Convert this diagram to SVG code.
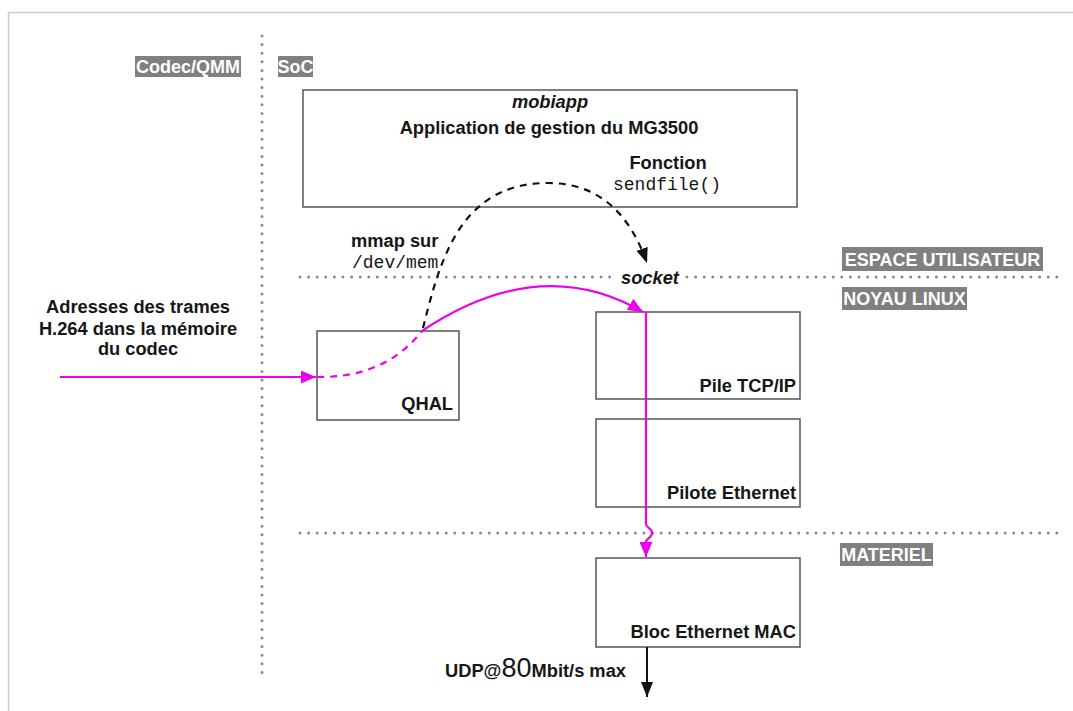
<svg xmlns="http://www.w3.org/2000/svg" width="1073" height="711" viewBox="0 0 1073 711">
  <style>
    .t { font-family: "Liberation Sans", Arial, sans-serif; font-weight: bold; font-size: 18.3px; fill: #161616; }
    .mono { font-family: "Liberation Mono", "Courier New", monospace; font-size: 18px; fill: #161616; }
    .lbl { font-family: "Liberation Sans", Arial, sans-serif; font-weight: bold; font-size: 18px; fill: #ffffff; }
    .lblbox { fill: #808080; }
    .box { fill: #ffffff; stroke: #555555; stroke-width: 1.5; }
    .dots { fill: none; stroke: #8a8a8a; stroke-width: 3; stroke-linecap: round; stroke-dasharray: 0 8.6; }
    .mag { fill: none; stroke: #ee00ee; stroke-width: 2.2; }
  </style>
  <defs>
    <marker id="ahMag" markerUnits="userSpaceOnUse" markerWidth="15" markerHeight="13" refX="15" refY="6.5" orient="auto">
      <path d="M0,0 L15,6.5 L0,13 z" fill="#ee00ee"/>
    </marker>
    <marker id="ahBlk" markerUnits="userSpaceOnUse" markerWidth="15" markerHeight="12" refX="15" refY="6" orient="auto">
      <path d="M0,0 L15,6 L0,12 z" fill="#111111"/>
    </marker>
  </defs>

  <rect x="0" y="0" width="1073" height="711" fill="#ffffff"/>
  <!-- frame -->
  <path d="M8.5,711 V12.5 H1073" fill="none" stroke="#cccccc" stroke-width="1.5"/>

  <!-- separators -->
  <g id="separators">
    <line class="dots" x1="262" y1="36" x2="262" y2="676"/>
    <line class="dots" x1="300" y1="277" x2="1060" y2="277"/>
    <line class="dots" x1="300" y1="533" x2="1060" y2="533"/>
  </g>

  <!-- zone labels -->
  <g id="label-codec">
    <rect class="lblbox" x="135" y="56" width="106" height="21"/>
    <text class="lbl" x="188" y="73" text-anchor="middle">Codec/QMM</text>
  </g>
  <g id="label-soc">
    <rect class="lblbox" x="278" y="56" width="35" height="21"/>
    <text class="lbl" x="295.5" y="73" text-anchor="middle">SoC</text>
  </g>
  <g id="label-espace">
    <rect class="lblbox" x="842" y="247" width="201" height="24"/>
    <text class="lbl" x="942.5" y="266" text-anchor="middle">ESPACE UTILISATEUR</text>
  </g>
  <g id="label-noyau">
    <rect class="lblbox" x="842" y="287" width="125" height="23"/>
    <text class="lbl" x="904.5" y="305" text-anchor="middle">NOYAU LINUX</text>
  </g>
  <g id="label-materiel">
    <rect class="lblbox" x="840" y="543" width="93" height="23"/>
    <text class="lbl" x="886.5" y="561" text-anchor="middle">MATERIEL</text>
  </g>

  <!-- nodes -->
  <g id="node-mobiapp">
    <rect class="box" x="303" y="90" width="494" height="117"/>
    <text class="t" x="550" y="108" text-anchor="middle" font-style="italic">mobiapp</text>
    <text class="t" x="549" y="134" text-anchor="middle">Application de gestion du MG3500</text>
    <text class="t" x="668" y="169" text-anchor="middle">Fonction</text>
    <text class="mono" x="667" y="190" text-anchor="middle">sendfile()</text>
  </g>
  <g id="node-qhal">
    <rect class="box" x="317" y="331" width="142" height="89"/>
    <text class="t" x="453" y="410" text-anchor="end">QHAL</text>
  </g>
  <g id="node-tcpip">
    <rect class="box" x="596" y="312" width="204" height="87"/>
    <text class="t" x="796" y="392" text-anchor="end">Pile TCP/IP</text>
  </g>
  <g id="node-pilote">
    <rect class="box" x="596" y="419" width="204" height="88"/>
    <text class="t" x="796" y="499" text-anchor="end">Pilote Ethernet</text>
  </g>
  <g id="node-mac">
    <rect class="box" x="596" y="558" width="204" height="89"/>
    <text class="t" x="796" y="638" text-anchor="end">Bloc Ethernet MAC</text>
  </g>

  <!-- free texts -->
  <g id="text-adresses">
    <text class="t" x="138" y="313" text-anchor="middle">Adresses des trames</text>
    <text class="t" x="138" y="335" text-anchor="middle">H.264 dans la mémoire</text>
    <text class="t" x="138" y="355" text-anchor="middle">du codec</text>
  </g>
  <g id="text-mmap">
    <text class="t" x="351" y="247">mmap sur</text>
    <text class="mono" x="352" y="268">/dev/mem</text>
  </g>
  <g id="text-socket">
    <rect x="614" y="266" width="69" height="22" fill="#ffffff"/>
    <text class="t" x="621" y="284" font-style="italic">socket</text>
  </g>
  <g id="text-udp">
    <text class="t" x="445" y="677">UDP@<tspan font-size="27" font-weight="normal">80</tspan>Mbit/s max</text>
  </g>

  <!-- connectors -->
  <g id="connectors">
    <path d="M423,328 C440,260 460,183 548,183 C600,183 630,215 647,263" fill="none" stroke="#111111" stroke-width="2.2" stroke-dasharray="7 6" marker-end="url(#ahBlk)"/>
    <line class="mag" x1="60" y1="377" x2="316" y2="377" marker-end="url(#ahMag)"/>
    <path class="mag" d="M317,377 Q385,378 422,331" stroke-dasharray="7 6"/>
    <path class="mag" d="M422,331 Q540,252 643,312" marker-end="url(#ahMag)"/>
    <path class="mag" d="M646,312 V524 C646,528 652,528 652,533 C652,538 646,538 646,542 V557" marker-end="url(#ahMag)"/>
    <line x1="647" y1="647" x2="647" y2="697" stroke="#111111" stroke-width="2" marker-end="url(#ahBlk)"/>
  </g>
</svg>
